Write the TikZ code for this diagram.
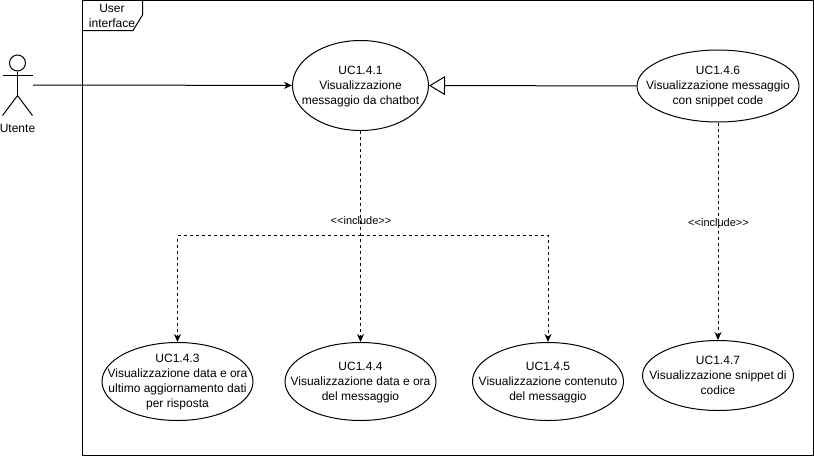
\documentclass[tikz,border=0pt]{standalone}
\usepackage{fontspec}
\setmainfont{Liberation Sans}
\usetikzlibrary{arrows.meta,shapes.geometric}
\newcommand{\uctext}[1]{\raisebox{-3.5pt}[0pt][0pt]{\makebox[0pt]{\begin{tabular}{@{}c@{}}#1\end{tabular}}}}
\begin{document}
\begin{tikzpicture}[x=1pt, y=-1pt, line width=1pt,
    usecase/.style={ellipse, draw, inner sep=0pt,
      font=\fontsize{12}{15}\selectfont},
    plain/.style={inner sep=0pt, align=center,
      font=\fontsize{12}{15}\selectfont},
    stereo/.style={inner sep=0pt, font=\fontsize{11}{13}\selectfont}]
    \useasboundingbox (0,0) rectangle (814,456);

    % frame
    \node [draw, minimum width=730.5pt, minimum height=454.5pt, inner sep=0pt]
    (frame) at (447.75,227.75) {};
    \draw (82.5,30.5) -- (133,30.5) -- (142.5,15) -- (142.5,0.5);
    \node [plain] (framelabel) at (112,15.5) {User\\interface};

    % actor
    \node [minimum width=30pt, minimum height=60pt, inner sep=0pt]
    (utente) at (17.5,85) {};
    \node [plain] (utentelabel) at (17.5,128.5) {Utente};
    \node [circle, draw, minimum size=16pt, inner sep=0pt] (head) at (17.5,63) {};
    \draw (head) -- (17.5,95.5);
    \draw (2.5,75.5) -- (32.5,75.5);
    \draw (2.5,115.5) -- (17.5,95.5) -- (32.5,115.5);

    \begin{scope}[every node/.style={usecase}]
      \node [minimum width=136pt, minimum height=90pt] (uc1) at (360.5,85.5)
      {\uctext{UC1.4.1\\Visualizzazione\\messaggio da chatbot}};
      \node [minimum width=162pt, minimum height=72pt] (uc6) at (718,86)
      {\uctext{UC1.4.6\\Visualizzazione messaggio\\con snippet code}};
      \node [minimum width=151pt, minimum height=78pt] (uc3) at (177.5,381.5)
      {\uctext{UC1.4.3\\Visualizzazione data e ora\\ultimo aggiornamento dati\\per risposta}};
      \node [minimum width=151pt, minimum height=78pt] (uc4) at (360.5,381.5)
      {\uctext{UC1.4.4\\Visualizzazione data e ora\\del messaggio}};
      \node [minimum width=151pt, minimum height=78pt] (uc5) at (548,381.5)
      {\uctext{UC1.4.5\\Visualizzazione contenuto\\del messaggio}};
      \node [minimum width=151pt, minimum height=70pt] (uc7) at (718,375.5)
      {\uctext{UC1.4.7\\Visualizzazione snippet di\\codice}};
    \end{scope}

    \coordinate (split) at (360.5,235.5);

    \begin{scope}[->, >={Stealth[length=8pt,width=7pt]}]
      \draw (utente) to (uc1);
      \begin{scope}[dash pattern=on 3pt off 3pt]
        \draw (uc1) to (uc4);
        \draw (split) -| (uc3);
        \draw (split) -| (uc5);
        \draw (uc6) to (uc7);
      \end{scope}
    \end{scope}
    \draw [-{Triangle[open,fill=white,length=16pt,width=19pt]}] (uc6) to (uc1);

    \node [stereo] (inc1) at (361,221) {<{}<include>{}>};
    \node [stereo] (inc2) at (718.5,223) {<{}<include>{}>};

  \end{tikzpicture}
\end{document}
